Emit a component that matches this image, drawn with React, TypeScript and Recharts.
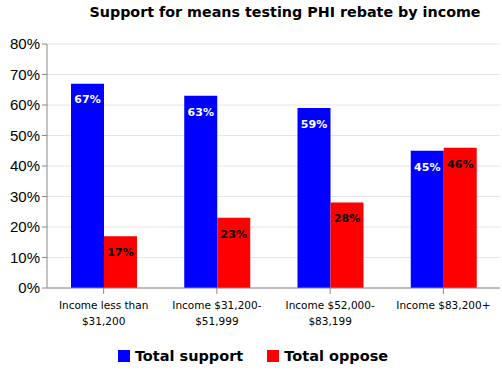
import React from "react";
import { BarChart, Bar, XAxis, YAxis, CartesianGrid, LabelList, Legend } from "recharts";

const categories = ["Income less than|$31,200", "Income $31,200-|$51,999", "Income $52,000-|$83,199", "Income $83,200+"];
const totalSupport = [67, 63, 59, 45];
const totalOppose = [17, 23, 28, 46];
const yTicks = [0, 10, 20, 30, 40, 50, 60, 70, 80];

const data = categories.map((c, i) => ({ name: c, support: totalSupport[i], oppose: totalOppose[i] }));

const XTick = (props: any) => {
  const { x, y, payload } = props;
  const lines = String(payload.value).split("|");
  return (
    <g transform={`translate(${x},${y})`}>
      {lines.map((l, i) => (
        <text key={i} x={0} y={13 + i * 16} textAnchor="middle" fontSize={10.5} fill="#000" fontFamily="DejaVu Sans, sans-serif">
          {l}
        </text>
      ))}
    </g>
  );
};

const renderLegend = () => (
  <div style={{ display: "flex", justifyContent: "center", alignItems: "center", fontFamily: "DejaVu Sans, sans-serif", fontWeight: "bold", fontSize: 14.5, color: "#000", paddingLeft: 6 }}>
    <span style={{ display: "inline-block", width: 12, height: 12, background: "#0000ff", marginRight: 5 }} />
    <span style={{ marginRight: 24 }}>Total support</span>
    <span style={{ display: "inline-block", width: 12, height: 12, background: "#ff0000", marginRight: 5 }} />
    <span>Total oppose</span>
  </div>
);

export default function App() {
  return (
    <div style={{ position: "absolute", left: 0, top: 0, width: 502, height: 372, background: "#fff" }}>
      <div style={{ position: "absolute", top: 4, left: 0, width: 570, textAlign: "center", fontFamily: "DejaVu Sans, sans-serif", fontWeight: "bold", fontSize: 14.3, color: "#000" }}>
        Support for means testing PHI rebate by income
      </div>
      <BarChart width={502} height={372} data={data} margin={{ top: 44, right: 2, bottom: 28, left: 0 }} barCategoryGap={24} barGap={0}>
        <CartesianGrid vertical={false} stroke="#e6e6e6" />
        <XAxis dataKey="name" tick={<XTick />} tickLine={{ stroke: "#888" }} axisLine={{ stroke: "#888" }} interval={0} height={40} tickSize={6} />
        <YAxis width={47} domain={[0, 80]} ticks={yTicks} tickFormatter={(v: number) => `${v}%`} tick={{ fontSize: 15, fill: "#000", fontFamily: "Liberation Sans, sans-serif" }} axisLine={{ stroke: "#888" }} tickLine={{ stroke: "#888" }} tickSize={5} />
        <Legend content={renderLegend} verticalAlign="bottom" wrapperStyle={{ bottom: 8 }} />
        <Bar dataKey="support" name="Total support" fill="#0000ff" isAnimationActive={false}>
          <LabelList dataKey="support" position="insideTop" offset={12} formatter={(v: number) => `${v}%`} fill="#fff" fontSize={11} fontWeight="bold" fontFamily="DejaVu Sans, sans-serif" />
        </Bar>
        <Bar dataKey="oppose" name="Total oppose" fill="#ff0000" isAnimationActive={false}>
          <LabelList dataKey="oppose" position="insideTop" offset={12} formatter={(v: number) => `${v}%`} fill="#000" fontSize={11} fontWeight="bold" fontFamily="DejaVu Sans, sans-serif" />
        </Bar>
      </BarChart>
    </div>
  );
}
